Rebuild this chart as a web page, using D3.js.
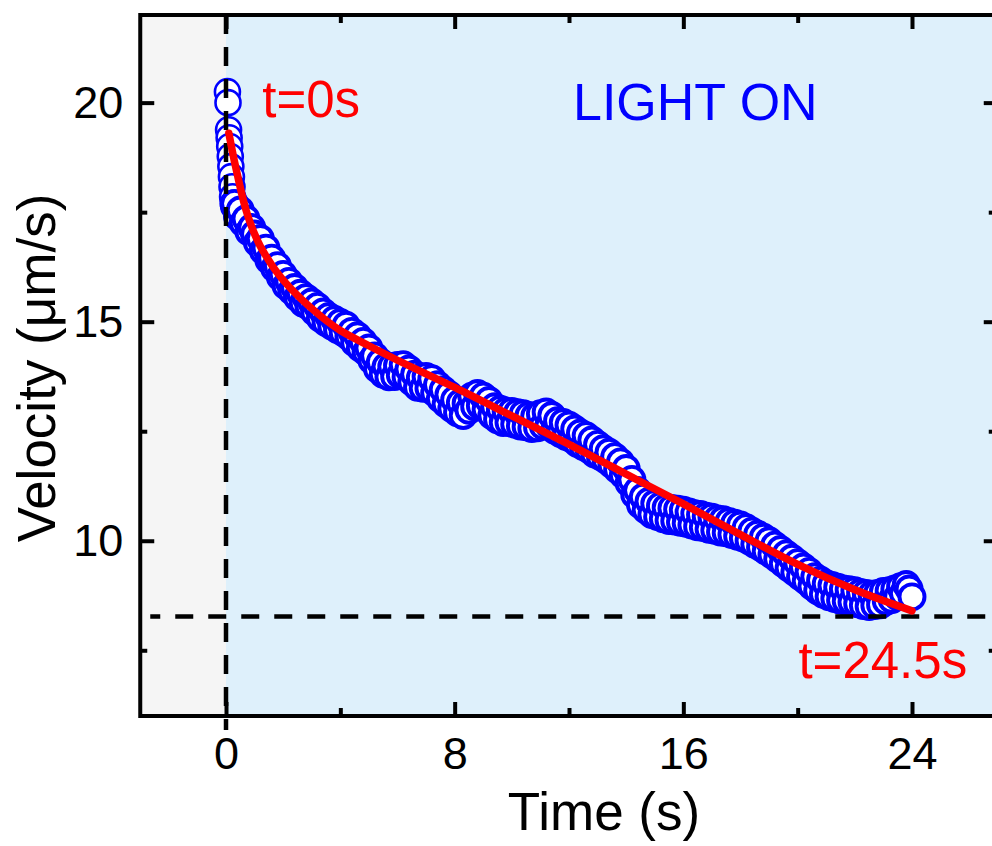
<!DOCTYPE html>
<html>
<head>
<meta charset="utf-8">
<script src="https://cdn.jsdelivr.net/npm/d3@7"></script>
<style>
  body { margin: 0; background: #fff; }
  svg { display: block; }
  text { font-family: Arial, "Liberation Sans", sans-serif; }
</style>
</head>
<body>
<svg id="chart" width="992" height="846"></svg>
<script>
// ---- data ----
// first frames right after the light goes on (dense, fast drop)
var earlyTime = [0.05, 0.07, 0.09, 0.11, 0.13, 0.15, 0.17, 0.19, 0.21, 0.23, 0.25, 0.27];
var earlyVel  = [20.25, 20.0, 19.38, 19.2, 19.0, 18.77, 18.54, 18.31, 18.08, 17.85, 17.7, 17.63];

// rest of the trace, one value every 0.1 s starting at 0.3 s
var velStart = 0.3, velStep = 0.1;
var velocity = [
  17.7, 17.4, 17.55, 17.25, 17.35, 17.05, 17.15,
  17.0, 16.8, 16.9, 16.62, 16.68, 16.4, 16.45, 16.22, 16.28, 16.02,
  16.08, 15.82, 15.92, 15.7, 15.78, 15.55, 15.65, 15.42, 15.55, 15.35,
  15.45, 15.22, 15.35, 15.08, 15.22, 14.98, 15.12, 14.9, 15.05, 14.82,
  14.98, 14.75, 14.92, 14.66, 14.78, 14.52, 14.68, 14.4, 14.55, 14.3,
  14.4, 14.12, 14.22, 13.92, 14.08, 13.8, 13.98, 13.74, 13.98, 13.75,
  14.0, 13.78, 14.02, 13.74, 13.92, 13.62, 13.8, 13.5, 13.72, 13.48,
  13.75, 13.48, 13.7, 13.38, 13.56, 13.24, 13.45, 13.12, 13.34, 13.02,
  13.22, 12.92, 13.15, 12.86, 13.14, 12.98, 13.3, 13.06, 13.36, 13.08,
  13.3, 13.0, 13.2, 12.86, 13.06, 12.76, 13.0, 12.7, 12.96, 12.7,
  12.95, 12.66, 12.92, 12.62, 12.9, 12.6, 12.86, 12.56, 12.84, 12.58,
  12.9, 12.62, 12.94, 12.64, 12.86, 12.52, 12.74, 12.45, 12.7, 12.38,
  12.64, 12.32, 12.55, 12.22, 12.46, 12.15, 12.4, 12.08, 12.3, 11.98,
  12.2, 11.92, 12.1, 11.84, 12.02, 11.74, 11.92, 11.62, 11.8, 11.5,
  11.65, 11.32, 11.4, 11.05, 11.15, 10.82, 11.0, 10.7, 10.9, 10.6,
  10.85, 10.55, 10.8, 10.5, 10.76, 10.46, 10.74, 10.45, 10.72, 10.42,
  10.7, 10.4, 10.66, 10.36, 10.62, 10.32, 10.6, 10.3, 10.56, 10.26,
  10.54, 10.24, 10.5, 10.2, 10.48, 10.18, 10.44, 10.14, 10.4, 10.1,
  10.36, 10.06, 10.3, 10.0, 10.22, 9.92, 10.15, 9.85, 10.08, 9.76,
  10.0, 9.68, 9.9, 9.58, 9.8, 9.48, 9.7, 9.38, 9.6, 9.28,
  9.5, 9.18, 9.4, 9.08, 9.3, 8.96, 9.18, 8.86, 9.1, 8.78,
  9.02, 8.72, 8.98, 8.68, 8.94, 8.64, 8.9, 8.62, 8.88, 8.6,
  8.86, 8.56, 8.82, 8.52, 8.8, 8.5, 8.78, 8.52, 8.8, 8.54,
  8.84, 8.62, 8.86, 8.66, 8.9, 8.72, 8.95, 8.8, 9.0, 8.9,
  8.72
];

// fitted curve (red)
var fitTime = [0.1, 0.25, 0.4, 0.55, 0.7, 0.85, 1.0, 1.2, 1.4, 1.7, 2.0, 2.5, 3.0, 3.5, 4.0, 5.0, 6.0, 8.0, 10, 12, 14, 16, 18, 20, 22, 24];
var fitVel  = [19.3, 18.8, 18.35, 17.92, 17.55, 17.25, 17.0, 16.72, 16.5, 16.2, 15.95, 15.6, 15.3, 15.03, 14.8, 14.45, 14.12, 13.5, 12.85, 12.2, 11.52, 10.84, 10.14, 9.46, 8.88, 8.4];

var lightOnTime = 0;     // vertical dashed line
var finalVel = 8.27;     // horizontal dashed line

var xMajor = [0, 8, 16, 24], xMinor = [4, 12, 20];
var yMajor = [10, 15, 20],   yMinor = [7.5, 12.5, 17.5];

// ---- chart ----
var svg = d3.select('#chart');

var x = d3.scaleLinear().domain([-3, 27]).range([140.25, 997.75]);
var y = d3.scaleLinear().domain([6, 22]).range([716, 15]);

var points = earlyTime.map(function (t, i) { return [t, earlyVel[i]]; })
  .concat(velocity.map(function (v, i) { return [+(velStart + i * velStep).toFixed(2), v]; }));

// backgrounds
svg.append('rect')
    .attr('x', x(-3)).attr('y', y(22))
    .attr('width', x(lightOnTime) - x(-3)).attr('height', y(6) - y(22))
    .attr('fill', '#f5f5f5');
svg.append('rect')
    .attr('x', x(lightOnTime)).attr('y', y(22))
    .attr('width', x(27) - x(lightOnTime)).attr('height', y(6) - y(22))
    .attr('fill', '#def0fb');

// scatter (open circles)
svg.append('g')
  .selectAll('circle')
  .data(points)
  .join('circle')
    .attr('cx', function (d) { return x(d[0]); })
    .attr('cy', function (d) { return y(d[1]); })
    .attr('r', 12.5)
    .attr('fill', '#fff')
    .attr('stroke', '#0000ff')
    .attr('stroke-width', function (d, i) { return i < earlyTime.length ? 2.6 : 3.9; });

// dashed guide lines
svg.append('line')
    .attr('x1', x(lightOnTime)).attr('x2', x(lightOnTime))
    .attr('y1', y(22)).attr('y2', y(6) + 14)
    .attr('stroke', '#000').attr('stroke-width', 4.5)
    .attr('stroke-dasharray', '19,13');
svg.append('line')
    .attr('x1', x(-2.65)).attr('x2', x(27))
    .attr('y1', y(finalVel)).attr('y2', y(finalVel))
    .attr('stroke', '#000').attr('stroke-width', 4.5)
    .attr('stroke-dasharray', '18,15')
    .attr('stroke-dashoffset', 8);

// fit
var line = d3.line()
    .x(function (d, i) { return x(fitTime[i]); })
    .y(function (d) { return y(d); })
    .curve(d3.curveCatmullRom);
svg.append('path')
    .attr('d', line(fitVel))
    .attr('fill', 'none')
    .attr('stroke', '#ff0000')
    .attr('stroke-width', 7.5)
    .attr('stroke-linecap', 'round');

// annotations
svg.append('text')
    .attr('x', x(1.27)).attr('y', y(19.68))
    .attr('fill', '#ff0000').attr('font-size', 51)
    .text('t=0s');
svg.append('text')
    .attr('x', x(12.14)).attr('y', y(19.61))
    .attr('fill', '#0000ff').attr('font-size', 52)
    .text('LIGHT ON');
svg.append('text')
    .attr('x', x(25.93)).attr('y', y(6.87))
    .attr('text-anchor', 'end')
    .attr('fill', '#ff0000').attr('font-size', 51)
    .text('t=24.5s');

// axes: inward ticks on all four sides
function styleAxis(g) {
  g.select('.domain').remove();
  g.selectAll('.tick line').attr('stroke', '#000').attr('stroke-width', 4);
  g.selectAll('.tick text').attr('fill', '#000').attr('font-size', 45)
    .attr('font-family', 'Arial, "Liberation Sans", sans-serif');
}

var H = y(6), W = x(27);

svg.append('g').attr('transform', 'translate(0,' + H + ')')
    .call(d3.axisBottom(x).tickValues(xMajor).tickSize(-14).tickPadding(21).tickFormat(d3.format('d')))
    .call(styleAxis);
svg.append('g').attr('transform', 'translate(0,' + H + ')')
    .call(d3.axisBottom(x).tickValues(xMinor).tickSize(-8).tickFormat(''))
    .call(styleAxis);
svg.append('g').attr('transform', 'translate(0,' + y(22) + ')')
    .call(d3.axisTop(x).tickValues(xMajor).tickSize(-14).tickFormat(''))
    .call(styleAxis);
svg.append('g').attr('transform', 'translate(0,' + y(22) + ')')
    .call(d3.axisTop(x).tickValues(xMinor).tickSize(-8).tickFormat(''))
    .call(styleAxis);

svg.append('g').attr('transform', 'translate(' + x(-3) + ',0)')
    .call(d3.axisLeft(y).tickValues(yMajor).tickSize(-14).tickPadding(17).tickFormat(d3.format('d')))
    .call(styleAxis);
svg.append('g').attr('transform', 'translate(' + x(-3) + ',0)')
    .call(d3.axisLeft(y).tickValues(yMinor).tickSize(-7).tickFormat(''))
    .call(styleAxis);
svg.append('g').attr('transform', 'translate(' + W + ',0)')
    .call(d3.axisRight(y).tickValues(yMajor).tickSize(-14).tickFormat(''))
    .call(styleAxis);
svg.append('g').attr('transform', 'translate(' + W + ',0)')
    .call(d3.axisRight(y).tickValues(yMinor).tickSize(-9).tickFormat(''))
    .call(styleAxis);

// frame
svg.append('rect')
    .attr('x', x(-3)).attr('y', y(22))
    .attr('width', W - x(-3)).attr('height', H - y(22))
    .attr('fill', 'none').attr('stroke', '#000').attr('stroke-width', 4);

// axis titles
svg.append('text')
    .attr('x', 604).attr('y', 830)
    .attr('text-anchor', 'middle').attr('font-size', 53)
    .text('Time (s)');
svg.append('text')
    .attr('transform', 'translate(55,368) rotate(-90)')
    .attr('text-anchor', 'middle').attr('font-size', 53)
    .text('Velocity (\u03bcm/s)');
</script>
</body>
</html>
